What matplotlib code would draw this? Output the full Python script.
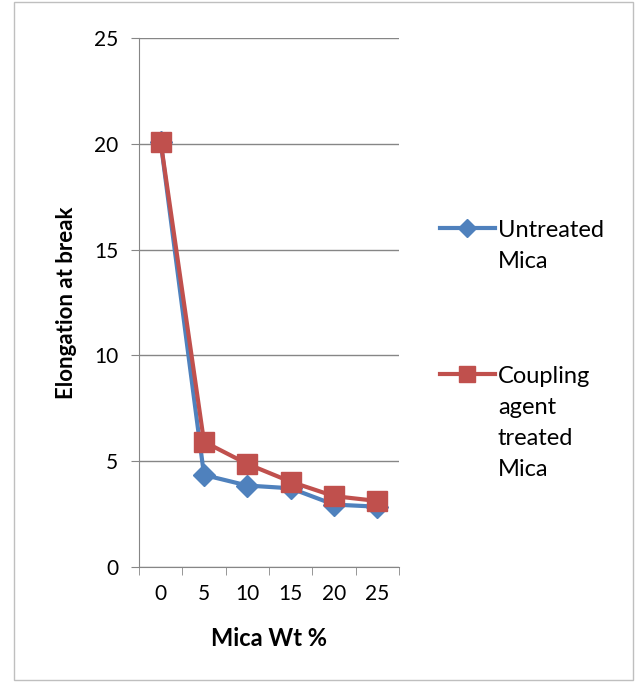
import matplotlib.pyplot as plt
from matplotlib.lines import Line2D
from matplotlib.patches import Rectangle

plt.rcParams['font.family'] = ['Lato', 'DejaVu Sans']

categories = ['0', '5', '10', '15', '20', '25']
untreated = [20.1, 4.35, 3.85, 3.72, 2.95, 2.85]
coupling = [20.1, 5.92, 4.87, 4.03, 3.35, 3.12]

blue = '#4F81BD'
red = '#C0504D'
grid_c = '#868686'

fig = plt.figure(figsize=(6.35, 6.82), dpi=100)
ax = fig.add_axes([139 / 635, 1 - 567 / 682, 260 / 635, 529 / 682])

x = list(range(len(categories)))
ax.plot(x, untreated, color=blue, lw=3, marker='D', ms=11, zorder=3)
ax.plot(x, coupling, color=red, lw=3, marker='s', ms=14, zorder=4)

ax.set_xlim(-0.5, len(categories) - 0.5)
ax.set_ylim(0, 25)
ax.set_yticks([0, 5, 10, 15, 20, 25])
ax.set_xticks(x)
ax.set_xticklabels(categories)
ax.set_xticks([i - 0.5 for i in range(len(categories) + 1)], minor=True)
ax.tick_params(axis='x', which='major', length=0, labelsize=15, pad=12)
ax.tick_params(axis='x', which='minor', length=6, color=grid_c)
ax.tick_params(axis='y', length=6, color=grid_c, labelsize=15, pad=9)

ax.grid(axis='y', color=grid_c, lw=1)
ax.set_axisbelow(True)
for s in ['top', 'right']:
    ax.spines[s].set_visible(False)
ax.spines['left'].set_color(grid_c)
ax.spines['bottom'].set_color(grid_c)

ax.set_ylabel('Elongation at break', fontsize=16, fontweight='bold', labelpad=12)
ax.set_xlabel('Mica Wt %', fontsize=17, fontweight='bold', labelpad=17)

# legend, drawn by hand so the marker sits at the first text line
labels = ['Untreated\nMica', 'Coupling\nagent\ntreated\nMica']
styles = [(blue, 'D', 9), (red, 's', 12)]
ys = [1 - 228 / 682, 1 - 374 / 682]
for lab, (c, m, ms), y in zip(labels, styles, ys):
    fig.add_artist(Line2D([440 / 635, 495 / 635], [y, y], color=c, lw=3,
                          transform=fig.transFigure))
    fig.add_artist(Line2D([467 / 635], [y], color=c, marker=m, ms=ms,
                          transform=fig.transFigure))
    fig.text(498 / 635, y + 8 / 682, lab, fontsize=17, va='top', ha='left',
             linespacing=1.58)

fig.add_artist(Rectangle((14 / 635, 2 / 682), 619 / 635, 678 / 682, fill=False,
                         edgecolor='#BFBFBF', lw=1, transform=fig.transFigure))

fig.savefig('out.png', dpi=100)
